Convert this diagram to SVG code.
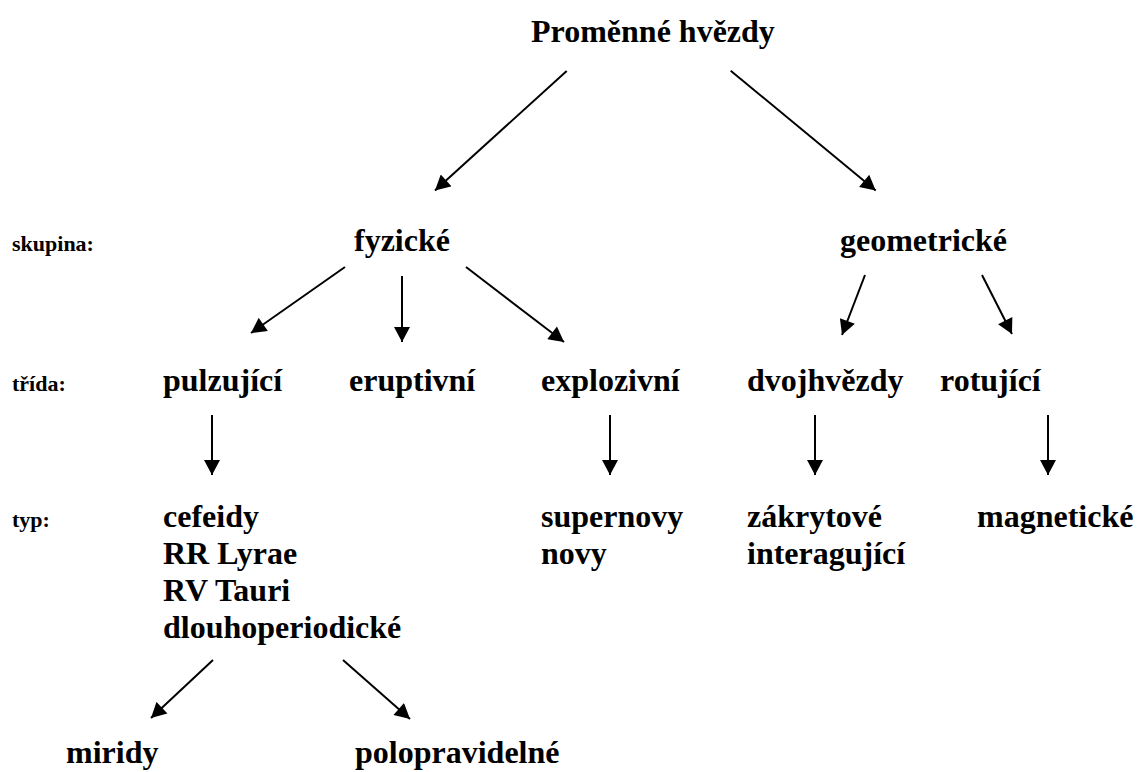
<svg xmlns="http://www.w3.org/2000/svg" width="1143" height="772" viewBox="0 0 1143 772">
<defs>
<marker id="ah" markerUnits="userSpaceOnUse" markerWidth="16" markerHeight="16" viewBox="0 0 15 16" refX="15" refY="8" orient="auto">
<path d="M0,0 L15,8 L0,16 z" fill="#000"/>
</marker>
<style>
text{font-family:'Liberation Serif','Times New Roman',Times,'DejaVu Serif',serif;font-weight:bold;fill:#000}
.b{font-size:32px}
.s{font-size:22px}
line{stroke:#000;stroke-width:2;marker-end:url(#ah)}
</style>
</defs>
<rect width="1143" height="772" fill="#fff"/>
<g id="labels" font-family="Liberation Serif">
<text class="s" x="12" y="251">skupina:</text>
<text class="s" x="12" y="391">třída:</text>
<text class="s" x="12" y="527">typ:</text>
</g>
<g id="root"><text class="b" x="531" y="42">Proměnné hvězdy</text></g>
<g id="fyzicke"><text class="b" x="354" y="251">fyzické</text></g>
<g id="geometricke"><text class="b" x="840" y="251">geometrické</text></g>
<g id="pulzujici"><text class="b" x="163" y="391">pulzující</text></g>
<g id="eruptivni"><text class="b" x="349" y="391">eruptivní</text></g>
<g id="explozivni"><text class="b" x="541" y="391">explozivní</text></g>
<g id="dvojhvezdy"><text class="b" x="747" y="391">dvojhvězdy</text></g>
<g id="rotujici"><text class="b" x="940" y="391">rotující</text></g>
<g id="typy-pulz">
<text class="b" x="163" y="527">cefeidy</text>
<text class="b" x="163" y="564">RR Lyrae</text>
<text class="b" x="163" y="601">RV Tauri</text>
<text class="b" x="163" y="638">dlouhoperiodické</text>
</g>
<g id="typy-expl">
<text class="b" x="541" y="527">supernovy</text>
<text class="b" x="541" y="564">novy</text>
</g>
<g id="typy-dvoj">
<text class="b" x="747" y="527">zákrytové</text>
<text class="b" x="747" y="564">interagující</text>
</g>
<g id="typy-rot"><text class="b" x="977" y="527">magnetické</text></g>
<g id="miridy"><text class="b" x="66" y="763">miridy</text></g>
<g id="polopravidelne"><text class="b" x="355" y="763">polopravidelné</text></g>
<g id="connectors">
<line x1="566.7" y1="71" x2="435" y2="190.5"/>
<line x1="730.7" y1="70.7" x2="875.7" y2="190.5"/>
<line x1="345" y1="267" x2="251" y2="333"/>
<line x1="402" y1="276" x2="402" y2="342"/>
<line x1="466" y1="267" x2="564" y2="342"/>
<line x1="865" y1="275" x2="842" y2="335"/>
<line x1="982" y1="275" x2="1012" y2="334"/>
<line x1="212" y1="415" x2="212" y2="475"/>
<line x1="610" y1="415" x2="610" y2="475"/>
<line x1="815" y1="415" x2="815" y2="475"/>
<line x1="1048" y1="415" x2="1048" y2="475"/>
<line x1="213" y1="660" x2="151" y2="718"/>
<line x1="343" y1="660" x2="410" y2="719"/>
</g>
</svg>
